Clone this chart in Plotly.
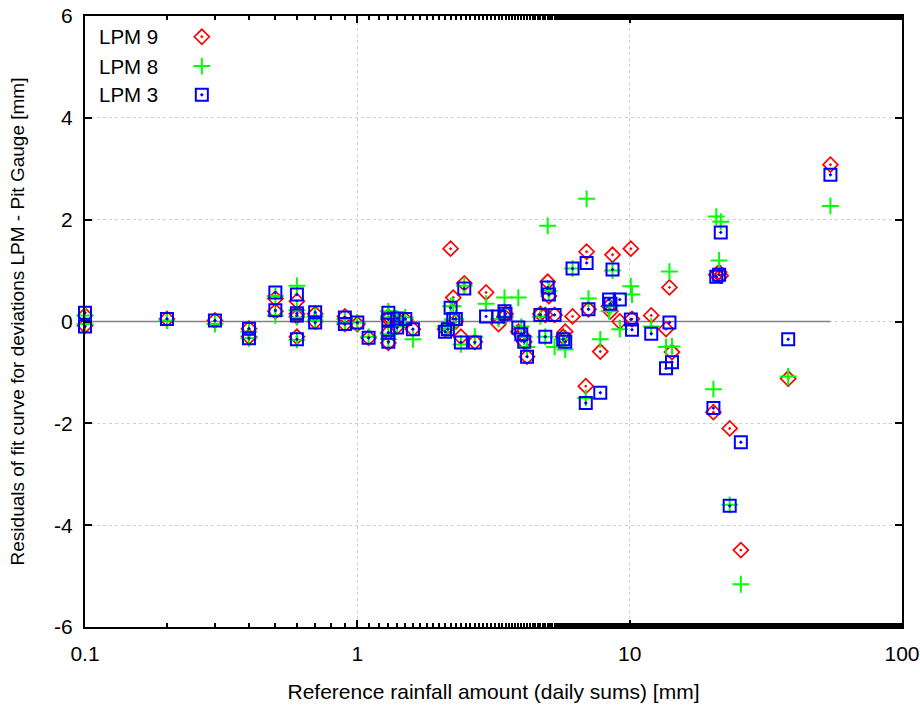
import plotly.graph_objects as go

# Reference rainfall amount (daily sums) [mm]
ref_rain = [0.1, 0.1, 0.2, 0.3, 0.4, 0.4, 0.5, 0.5, 0.6, 0.6, 0.6, 0.6, 0.7, 0.7,
            0.9, 0.9, 1.0, 1.1, 1.3, 1.3, 1.3, 1.3, 1.4, 1.4, 1.5, 1.6,
            2.1, 2.15, 2.2, 2.25, 2.3, 2.4, 2.47, 2.7, 2.97, 3.3, 3.47, 3.5,
            3.9, 4.0, 4.1, 4.2, 4.7, 4.9, 5.0, 5.05, 5.3, 5.7, 5.8, 6.17,
            6.9, 6.95, 7.06, 7.8, 8.4, 8.5, 8.65, 9.2, 10.1, 10.2, 12.0,
            13.6, 14.0, 14.3, 20.3, 20.8, 21.3, 21.6, 23.3, 25.6, 38.2, 54.6]

lpm9 = [0.12, -0.08, 0.05, 0.02, -0.14, -0.30, 0.45, 0.20, 0.40, 0.15, 0.10, -0.30, 0.15, 0.00,
        0.10, -0.05, -0.05, -0.32, 0.10, 0.05, -0.22, -0.42, 0.05, -0.10, 0.03, -0.15,
        -0.15, -0.10, 1.43, 0.47, 0.00, -0.30, 0.75, -0.40, 0.57, -0.05, 0.10, 0.15,
        -0.20, -0.25, -0.40, -0.69, 0.15, 0.13, 0.78, 0.50, 0.13, -0.30, -0.20, 0.10,
        -1.27, 1.37, 0.24, -0.59, 0.30, 0.20, 1.31, 0.00, 1.43, 0.05, 0.12,
        -0.15, 0.67, -0.60, -1.78, 0.92, 0.97, 0.90, -2.10, -4.49, -1.12, 3.08]

lpm8 = [0.12, -0.05, 0.02, -0.05, -0.20, -0.33, 0.50, 0.12, 0.70, 0.22, 0.08, -0.36, 0.10, 0.02,
        0.05, -0.03, -0.02, -0.30, 0.20, 0.08, -0.25, -0.35, 0.05, -0.10, 0.08, -0.35,
        -0.10, -0.15, 0.30, 0.30, 0.05, -0.45, 0.70, -0.30, 0.35, 0.05, 0.47, 0.10,
        0.47, -0.10, -0.30, -0.50, 0.10, -0.30, 1.88, 0.60, -0.50, -0.35, -0.55, 1.04,
        -1.50, 2.41, 0.45, -0.35, 0.20, 0.30, 1.00, -0.15, 0.69, 0.53, -0.10,
        -0.50, 0.98, -0.49, -1.33, 2.06, 1.20, 1.96, -3.60, -5.16, -1.08, 2.27]

lpm3 = [0.17, -0.10, 0.05, 0.02, -0.14, -0.33, 0.57, 0.22, 0.53, 0.16, 0.12, -0.35, 0.18, -0.02,
        0.08, -0.05, -0.02, -0.32, 0.17, 0.04, -0.22, -0.40, 0.06, -0.12, 0.05, -0.15,
        -0.20, -0.15, 0.27, 0.05, 0.05, -0.41, 0.65, -0.41, 0.10, 0.10, 0.20, 0.15,
        -0.12, -0.25, -0.40, -0.69, 0.13, -0.30, 0.67, 0.53, 0.13, -0.35, -0.40, 1.04,
        -1.60, 1.15, 0.24, -1.40, 0.43, 0.35, 1.02, 0.43, 0.04, -0.16, -0.24,
        -0.92, -0.02, -0.80, -1.70, 0.88, 0.92, 1.75, -3.62, -2.37, -0.35, 2.88]

# fit curve (residual zero line) spans the data range
fit_x = [min(ref_rain), max(ref_rain)]
fit_y = [0, 0]

series_names = ["LPM 9", "LPM 8", "LPM 3"]
series_colors = ["#ff0000", "#00ff00", "#0000ff"]
series_symbols = ["diamond-open-dot", "cross-thin-open", "square-open-dot"]
series_sizes = [11.5, 12, 12]
series_widths = [1.7, 2, 2]

x_ticks = [0.1, 1, 10, 100]
x_ticklabels = ["0.1", "1", "10", "100"]
y_ticks = [-6, -4, -2, 0, 2, 4, 6]
y_ticklabels = ["-6", "-4", "-2", "0", "2", "4", "6"]

# legend placement (paper fractions)
legend_text_x = 0.015
legend_sym_x = 0.143
legend_rows_y = [0.966, 0.918, 0.871]

fig = go.Figure()

fig.add_trace(go.Scatter(x=fit_x, y=fit_y, mode="lines",
                         line=dict(color="#808080", width=1.5),
                         showlegend=False, hoverinfo="skip"))

for name, ys, col, sym, sz, lw in zip(series_names, [lpm9, lpm8, lpm3], series_colors,
                                      series_symbols, series_sizes, series_widths):
    fig.add_trace(go.Scatter(x=ref_rain, y=ys, mode="markers", name=name,
                             cliponaxis=False,
                             marker=dict(symbol=sym, size=sz, color=col,
                                         line=dict(color=col, width=lw)),
                             showlegend=False))

# custom legend: text left, symbol right
for name, col, sym, sz, lw, ly in zip(series_names, series_colors, series_symbols,
                                      series_sizes, series_widths, legend_rows_y):
    fig.add_trace(go.Scatter(x=[legend_sym_x], y=[ly], xaxis="x2", yaxis="y2",
                             mode="markers", showlegend=False, hoverinfo="skip",
                             cliponaxis=False,
                             marker=dict(symbol=sym, size=sz, color=col,
                                         line=dict(color=col, width=lw))))
    fig.add_annotation(x=legend_text_x, y=ly, xref="paper", yref="paper",
                       text=name, showarrow=False, xanchor="left", yanchor="middle",
                       font=dict(size=20.5, color="black"))

font_family = "Liberation Sans, Arial, sans-serif"

fig.update_layout(
    width=920, height=712,
    margin=dict(l=85, r=18, t=16, b=85, autoexpand=False),
    paper_bgcolor="white", plot_bgcolor="white",
    font=dict(family=font_family, size=20, color="black"),
    xaxis=dict(type="log", range=[-1, 2], tickvals=x_ticks, ticktext=x_ticklabels,
               ticks="inside", ticklen=7, tickwidth=1.5, tickcolor="black",
               showline=True, linecolor="black", linewidth=2, mirror="ticks",
               showgrid=True, gridcolor="#d0d0d0", griddash="dot", gridwidth=1,
               zeroline=False, automargin=False, ticklabelstandoff=7,
               minor=dict(ticks="inside", ticklen=4, tickcolor="black", showgrid=False),
               title=dict(text="Reference rainfall amount (daily sums) [mm]",
                          font=dict(size=21), standoff=20),
               tickfont=dict(size=21)),
    yaxis=dict(range=[-6, 6], tickvals=y_ticks, ticktext=y_ticklabels,
               ticks="inside", ticklen=7, tickwidth=1.5, tickcolor="black",
               showline=True, linecolor="black", linewidth=2, mirror="ticks",
               showgrid=True, gridcolor="#d0d0d0", griddash="dot", gridwidth=1,
               zeroline=False, automargin=False, ticklabelstandoff=6,
               title=dict(text="Residuals of fit curve for deviations LPM - Pit Gauge [mm]",
                          font=dict(size=19), standoff=24),
               tickfont=dict(size=21)),
    xaxis2=dict(overlaying="x", range=[0, 1], visible=False),
    yaxis2=dict(overlaying="y", range=[0, 1], visible=False),
)

fig.write_html("out.html")
